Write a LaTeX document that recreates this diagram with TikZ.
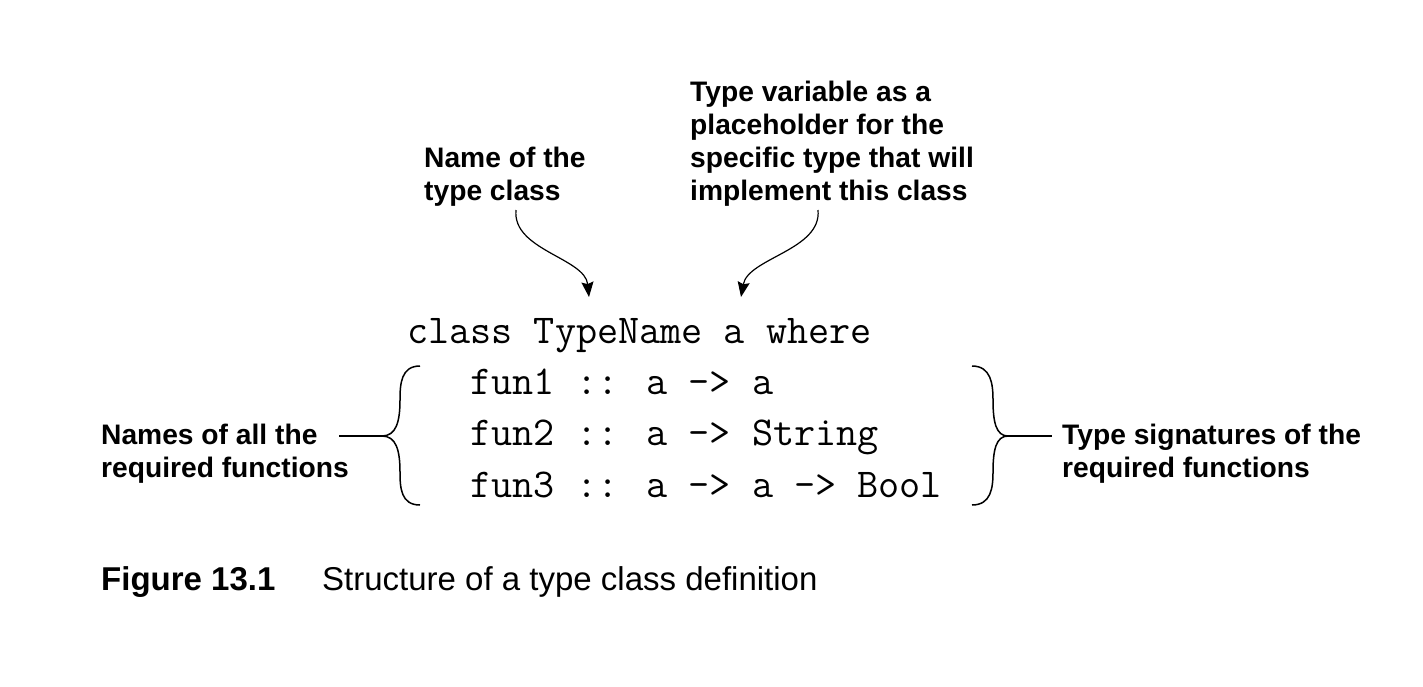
\documentclass[tikz,border=0pt]{standalone}
\usepackage{fontspec}
\setmainfont{Liberation Sans}
\usetikzlibrary{arrows.meta}

\begin{document}
\begin{tikzpicture}[x=1pt,y=-1pt,>={Stealth[length=15pt,width=12pt,inset=2pt]},
    lbl/.style={inner sep=0pt,anchor=base west,align=left,font=\bfseries\fontsize{28.2}{33}\selectfont},
    code/.style={inner sep=0pt,anchor=base west,align=left,font=\ttfamily\fontsize{41}{51.3}\selectfont}]
  \useasboundingbox (0,0) rectangle (1423,686);
  % labels (base = baseline of the last line)
  \node[lbl] (name) at (424,200) {Name of the\\type class};
  \node[lbl] (tyvar) at (690,200) {Type variable as a\\placeholder for the\\specific type that will\\implement this class};
  \node[lbl] (names) at (101,477) {Names of all the\\required functions};
  \node[lbl] (sigs) at (1062,477) {Type signatures of the\\required functions};
  % the class definition
  \node[code] (code) at (407,497) {class TypeName a where\\\phantom{cla}fun1 :: a -> a\\\phantom{cla}fun2 :: a -> String\\\phantom{cla}fun3 :: a -> a -> Bool};
  % arrows
  \coordinate (nameFrom) at (516,210);
  \coordinate (nameTo) at (589,297);
  \coordinate (tyvarFrom) at (818,210);
  \coordinate (tyvarTo) at (741,297);
  \draw[->,line width=1.2pt] (nameFrom) .. controls (512,250) and (585,258) .. (nameTo);
  \draw[->,line width=1.2pt] (tyvarFrom) .. controls (822,250) and (748,258) .. (tyvarTo);
  % braces
  \coordinate (ltip) at (382,436);
  \coordinate (lend) at (339,436);
  \coordinate (rtip) at (1008,436);
  \coordinate (rend) at (1052,436);
  \draw[line width=1.5pt] (420,366) .. controls (401,366) and (400,384) .. (400,400)
    .. controls (400,422) and (396,436) .. (ltip)
    .. controls (396,436) and (400,450) .. (400,472)
    .. controls (400,488) and (401,505) .. (420,505);
  \draw[line width=1.5pt] (972,366) .. controls (991,366) and (993,384) .. (993,400)
    .. controls (993,422) and (996,436) .. (rtip)
    .. controls (996,436) and (993,450) .. (993,472)
    .. controls (993,488) and (991,505) .. (972,505);
  \draw[line width=1.5pt] (lend) -- (ltip);
  \draw[line width=1.5pt] (rtip) -- (rend);
  % caption
  \node[inner sep=0pt,anchor=base west,font=\bfseries\fontsize{33}{36}\selectfont] (fig) at (101,590) {Figure 13.1};
  \node[inner sep=0pt,anchor=base west,font=\fontsize{33}{36}\selectfont] (caption) at (322,590) {Structure of a type class definition};
\end{tikzpicture}
\end{document}
